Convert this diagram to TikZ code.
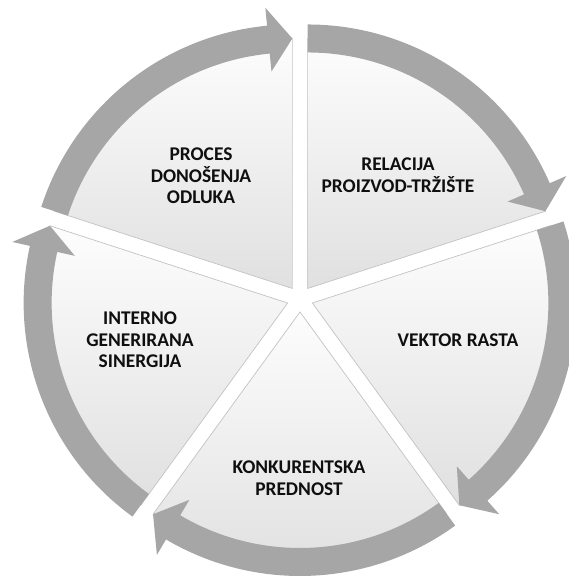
\documentclass[tikz,border=0pt]{standalone}
\usepackage{fontspec}
\setmainfont{Carlito}
\usetikzlibrary{calc}
\definecolor{segtop}{RGB}{253,253,253}
\definecolor{segbottom}{RGB}{224,224,224}
\definecolor{segline}{RGB}{195,195,195}
\definecolor{arrowgray}{RGB}{166,166,166}
\definecolor{textblack}{RGB}{15,15,15}

\begin{document}
\begin{tikzpicture}[
		x=0.025cm, y=0.025cm,
		segment/.style={top color=segtop, bottom color=segbottom, draw=segline, line width=0.5pt},
		ringarrow/.style={fill=arrowgray, draw=none},
		label/.style={font=\bfseries\fontsize{13.8}{15.4}\selectfont, align=center,
			text=textblack, inner sep=0pt}
		]
		\useasboundingbox (0,0) rectangle (568,576);
		\coordinate (ctr) at (300,277);
		\coordinate (cproc) at ($(ctr)+(126:13)$);
		\coordinate (crel) at ($(ctr)+(54:13)$);
		\coordinate (cvek) at ($(ctr)+(-18:13)$);
		\coordinate (ckon) at ($(ctr)+(-90:13)$);
		\coordinate (cint) at ($(ctr)+(198:13)$);

		% pie segments
		\shade[segment, shift={(cproc)}] (0,0) -- (162:250) arc[start angle=162, end angle=90, radius=250] -- cycle;
		\shade[segment, shift={(crel)}] (0,0) -- (90:250) arc[start angle=90, end angle=18, radius=250] -- cycle;
		\shade[segment, shift={(cvek)}] (0,0) -- (18:250) arc[start angle=18, end angle=-54, radius=250] -- cycle;
		\shade[segment, shift={(ckon)}] (0,0) -- (-54:250) arc[start angle=-54, end angle=-126, radius=250] -- cycle;
		\shade[segment, shift={(cint)}] (0,0) -- (234:250) arc[start angle=234, end angle=162, radius=250] -- cycle;

		% circular arrows
		\fill[ringarrow, shift={(cproc)}] (162:264) arc[start angle=162, end angle=95.5, radius=264]
			-- (95.5:282) -- (90:250) -- (95.5:218) -- (95.5:236) arc[start angle=95.5, end angle=162, radius=236] -- cycle;
		\fill[ringarrow, shift={(crel)}] (90:264) arc[start angle=90, end angle=23.5, radius=264]
			-- (23.5:282) -- (18:250) -- (23.5:218) -- (23.5:236) arc[start angle=23.5, end angle=90, radius=236] -- cycle;
		\fill[ringarrow, shift={(cvek)}] (18:264) arc[start angle=18, end angle=-48.5, radius=264]
			-- (-48.5:282) -- (-54:250) -- (-48.5:218) -- (-48.5:236) arc[start angle=-48.5, end angle=18, radius=236] -- cycle;
		\fill[ringarrow, shift={(ckon)}] (-54:264) arc[start angle=-54, end angle=-120.5, radius=264]
			-- (-120.5:282) -- (-126:250) -- (-120.5:218) -- (-120.5:236) arc[start angle=-120.5, end angle=-54, radius=236] -- cycle;
		\fill[ringarrow, shift={(cint)}] (234:264) arc[start angle=234, end angle=167.5, radius=264]
			-- (167.5:282) -- (162:250) -- (167.5:218) -- (167.5:236) arc[start angle=167.5, end angle=234, radius=236] -- cycle;

		\node[label] (proces) at (201,400) {PROCES\\DONOŠENJA\\ODLUKA};
		\node[label] (relacija) at (398,401) {RELACIJA\\PROIZVOD-TRŽIŠTE};
		\node[label] (vektor) at (458,236) {VEKTOR RASTA};
		\node[label] (prednost) at (299,97.5) {KONKURENTSKA\\PREDNOST};
		\node[label] (sinergija) at (140,236) {INTERNO\\GENERIRANA\\SINERGIJA};
	\end{tikzpicture}
\end{document}
